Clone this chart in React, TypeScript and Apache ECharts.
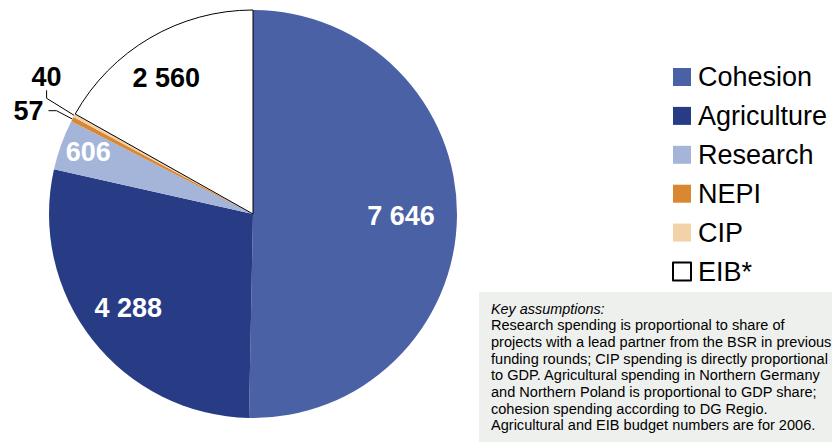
import React, { useEffect, useRef } from "react";
import * as echarts from "echarts";

const categories = ["Cohesion", "Agriculture", "Research", "NEPI", "CIP", "EIB*"];
const values = [7646, 4288, 606, 57, 40, 2560];
const sliceColors = ["#4A62A5", "#283C86", "#A5B5DA", "#D98731", "#F1D2A9", "#FFFFFF"];
const insideLabelColors: (string | null)[] = ["#FFFFFF", "#FFFFFF", "#FFFFFF", null, null, "#000000"];
const outsideLabel = [false, false, false, true, true, false];

const noteTitle = "Key assumptions:";
const noteLines = [
  "Research spending is proportional to share of",
  "projects with a lead partner from the BSR in previous",
  "funding rounds; CIP spending is directly proportional",
  "to GDP. Agricultural spending in Northern Germany",
  "and Northern Poland is proportional to GDP share;",
  "cohesion spending according to DG Regio.",
  "Agricultural and EIB budget numbers are for 2006.",
];

const FONT = "'Liberation Sans', Arial, sans-serif";
const fmt = (v: number) => String(v).replace(/\B(?=(\d{3})+(?!\d))/g, " ");

export default function App() {
  const ref = useRef<HTMLDivElement>(null);
  useEffect(() => {
    if (!ref.current) return;
    const chart = echarts.init(ref.current, undefined, { renderer: "svg" });
    const labelOffsets: ([number, number] | undefined)[] = [[-8, 0], [-2, -2], [-18, -9], undefined, undefined, [-8, -1]];
    const center = [253, 214];
    const R = 204;
    chart.setOption({
      animation: false,
      backgroundColor: "#FFFFFF",
      legend: {
        orient: "vertical",
        left: 672,
        top: 63.5,
        padding: 0,
        itemWidth: 18,
        itemHeight: 18,
        itemGap: 11.9,
        icon: "rect",
        selectedMode: false,
        data: categories,
        textStyle: {
          fontFamily: FONT,
          fontSize: 27,
          lineHeight: 27,
          color: "#000000",
          padding: [0, 0, 0, 2],
        },
      },
      graphic: [
        {
          type: "rect",
          left: 479,
          top: 292,
          shape: { width: 353, height: 150 },
          style: { fill: "#EEF0EE" },
          silent: true,
        },
        {
          type: "text",
          left: 491,
          top: 300.5,
          style: {
            text: noteTitle,
            font: `italic 14.4px ${FONT}`,
            fill: "#000000",
            lineHeight: 16.67,
          },
        },
        {
          type: "text",
          left: 491,
          top: 317,
          style: {
            text: noteLines.join("\n"),
            font: `14.55px ${FONT}`,
            fill: "#000000",
            lineHeight: 16.67,
          },
        },
      ],
      series: [
        {
          type: "pie",
          center,
          radius: R,
          startAngle: 90,
          clockwise: true,
          avoidLabelOverlap: false,
          emphasis: { disabled: true },
          label: {
            position: "outside",
            color: "#000000",
            fontSize: 27,
            fontWeight: "bold",
            fontFamily: FONT,
            formatter: (p: any) => fmt(p.value),
          },
          labelLine: { length: 18, length2: 8, lineStyle: { color: "#000000", width: 1 } },
          labelLayout: (p: any) =>
            p.dataIndex === 4
              ? { x: p.labelRect.x + p.labelRect.width + 16, y: p.labelRect.y + p.labelRect.height / 2 - 30 }
              : {},
          data: categories.map((name, i) => ({
            name,
            value: values[i],
            itemStyle: {
              color: sliceColors[i],
              borderColor: "#000000",
              borderWidth: i === 5 ? 1 : 0,
            },
            label: { show: outsideLabel[i] },
            labelLine: { show: outsideLabel[i] },
          })),
        },
        {
          type: "pie",
          center,
          radius: [R / 2, R],
          startAngle: 90,
          clockwise: true,
          silent: true,
          avoidLabelOverlap: false,
          emphasis: { disabled: true },
          itemStyle: { color: "transparent", borderWidth: 0 },
          label: {
            position: "inside",
            fontSize: 27,
            fontWeight: "bold",
            fontFamily: FONT,
            textBorderWidth: 0,
            formatter: (p: any) => fmt(p.value),
          },
          labelLine: { show: false },
          data: categories.map((name, i) => ({
            name,
            value: values[i],
            label: {
              show: insideLabelColors[i] != null,
              color: insideLabelColors[i] || "#000000",
              offset: labelOffsets[i],
            },
          })),
        },
      ],
    });
    return () => chart.dispose();
  }, []);
  return (
    <div
      ref={ref}
      style={{ position: "fixed", left: 0, top: 0, width: 832, height: 442, background: "#FFFFFF" }}
    />
  );
}
